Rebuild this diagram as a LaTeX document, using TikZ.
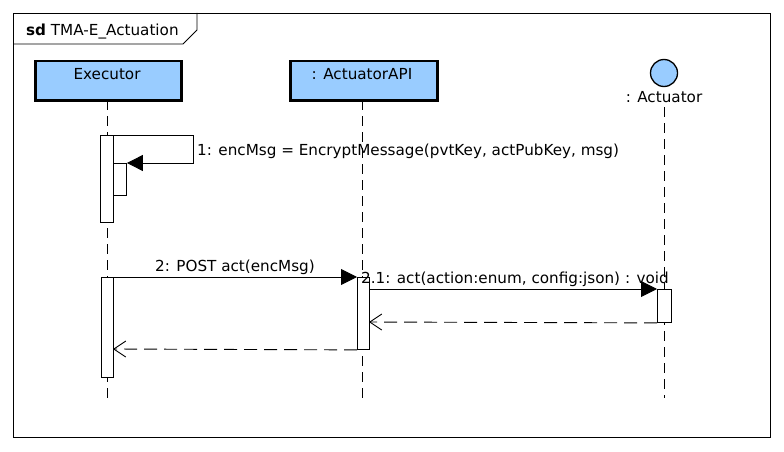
\documentclass[tikz,border=0pt]{standalone}
\usepackage{fontspec}
\setmainfont{DejaVu Sans}
\usetikzlibrary{arrows.meta}
\begin{document}
\begin{tikzpicture}[x=1pt,y=-1pt,
  txt/.style={font=\fontsize{15.2}{17}\selectfont, inner sep=0pt},
  lifeline/.style={line width=0.9pt, dash pattern=on 10pt off 6pt},
  headbox/.style={draw, line width=2.5pt, fill=blueish, minimum height=39pt, anchor=north west, inner sep=0pt},
  actbox/.style={draw, fill=white, line width=0.9pt, anchor=north west, inner sep=0pt},
  callmsg/.style={line width=0.9pt, -{Triangle[length=16pt,width=16pt]}},
  retmsg/.style={line width=0.9pt, dash pattern=on 13pt off 7pt, -{Straight Barb[length=12pt,width=16pt,line width=0.9pt]}}
]
\definecolor{blueish}{RGB}{153,204,255}
\useasboundingbox (0,0) rectangle (784,452);
\fill[white] (0,0) rectangle (784,452);
% frame
\draw[line width=0.9pt] (13,13) rectangle (770,437);
\draw[line width=0.9pt] (13,44) -- (183,44) -- (197,30) -- (197,13);
\node[txt, anchor=base west] (title) at (26,36) {\textbf{sd} TMA-E\_Actuation};
% lifeline heads
\node[headbox, minimum width=146pt] (exec) at (34,60) {};
\node[txt, anchor=base] (exect) at (107,80) {Executor};
\node[headbox, minimum width=147pt] (api) at (289,60) {};
\node[txt, anchor=base] (apit) at (362,80) {: ActuatorAPI};
\node[draw, line width=1.3pt, fill=blueish, circle, minimum size=27pt, inner sep=0pt] (act) at (664,73) {};
\node[txt, anchor=base] (actt) at (664,102) {: Actuator};
% lifelines
\coordinate (e0) at (107,100);
\coordinate (e1) at (107,398);
\coordinate (a0) at (362,100);
\coordinate (a1) at (362,398);
\coordinate (c0) at (664,107);
\coordinate (c1) at (664,398);
\draw[lifeline] (e0) -- (e1);
\draw[lifeline] (a0) -- (a1);
\draw[lifeline] (c0) -- (c1);
% activations
\node[actbox, minimum width=13pt, minimum height=87pt] (ea1) at (100,135) {};
\node[actbox, minimum width=13pt, minimum height=32pt] (ea1n) at (113,163) {};
\node[actbox, minimum width=12pt, minimum height=100pt] (ea2) at (101,277) {};
\node[actbox, minimum width=12pt, minimum height=72pt] (aa) at (357,277) {};
\node[actbox, minimum width=14pt, minimum height=33pt] (ca) at (657,289) {};
% message 1 (self)
\draw[callmsg] (ea1.north east) -- (193,135) -- (193,163) -- (ea1n.north east);
\node[txt, anchor=base west] (m1) at (197,155) {1: encMsg = EncryptMessage(pvtKey, actPubKey, msg)};
% message 2
\draw[callmsg] (ea2.north east) -- (aa.north west);
\node[txt, anchor=base] (m2) at (235,271) {2: POST act(encMsg)};
% message 2.1
\draw[callmsg] (369,289) -- (ca.north west);
\node[txt, anchor=base west] (m21) at (361,283) {2.1: act(action:enum, config:json) : void};
% returns
\draw[retmsg] (ca.south west) -- (369,322);
\draw[retmsg] (aa.south west) -- (113,349);
\end{tikzpicture}
\end{document}
